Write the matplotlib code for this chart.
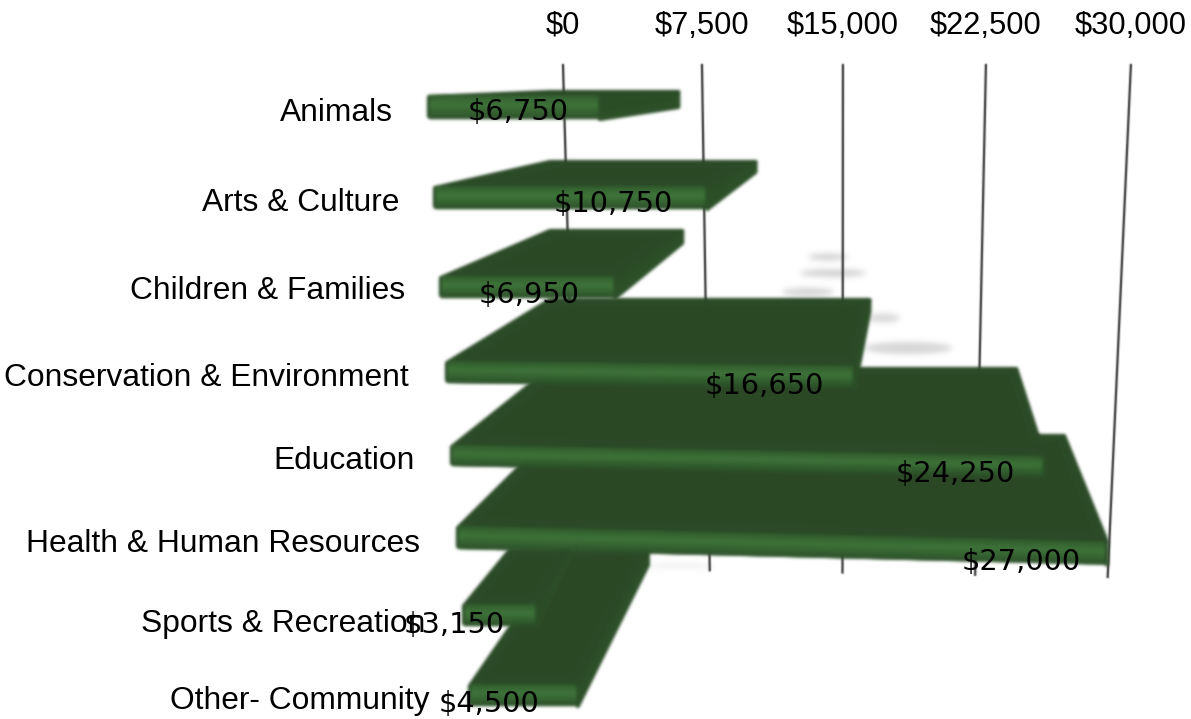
import numpy as np
import matplotlib
matplotlib.use('Agg')
import matplotlib.pyplot as plt
from matplotlib.patches import Ellipse
from matplotlib.collections import PolyCollection

categories = ['Animals', 'Arts & Culture', 'Children & Families', 'Conservation & Environment',
              'Education', 'Health & Human Resources', 'Sports & Recreation', 'Other- Community']
amounts = [6750, 10750, 6950, 16650, 24250, 27000, 3150, 4500]
tick_values = [0, 7500, 15000, 22500, 30000]

# perspective layout of each row, in pixels (pixels per $1000 for the scales)
front_left = [427, 433, 439, 445, 450, 456, 462, 468]
front_bottom = [119, 209, 298, 383, 466, 549, 626, 706]
front_scale = [25.6, 25.5, 25.3, 24.6, 24.5, 24.1, 23.8, 24.4]
front_tilt = [0, 0, 0, 0.012, 0.019, 0.024, 0, 0]
back_left = [550, 550, 550, 550, 550, 551, 510, 563]
back_y = [90, 160, 229, 298, 367, 434, 548, 549]
back_scale = [19.3, 19.3, 19.3, 19.3, 19.3, 19.07, 19.3, 19.3]
strip_h = [24, 23, 22, 22, 21, 23, 22, 22]
side_h = [17, 12, 14, 13, 13, 13, 10, 16]
label_right = [393, 399, 405, 409, 415, 420, 425, 429]
label_y = [113, 203, 291, 378, 461, 544, 624, 701]
value_dx = [82, 94, 86, 90, 89, 86, 83, 89]
value_y = [112, 204, 295, 386, 474, 562, 625, 704]

TOP = '#2b4a27'
SIDE = '#2c4f28'
DARK = np.array([0x2c, 0x50, 0x29]) / 255
LIGHT = np.array([0x40, 0x76, 0x3b]) / 255


def grid_x(v, y):
    # value lines lean inwards towards the bottom of the chart
    t = (y - 65) / 505
    u = v / 30000
    return 563 + 14 * t + v / 1000 * (18.93 - 1.23 * t) - 16 * u * (1 - u) * (1 - t)


def soft(sigma):
    # agg filter: gaussian blur, so the marks get the same fuzzy edge as the original
    r = int(3 * sigma) + 1
    w = np.exp(-0.5 * (np.arange(-r, r + 1) / sigma) ** 2)
    w = w / w.sum()

    def process(img, dpi):
        a = np.pad(img, ((r, r), (r, r), (0, 0)))
        a[..., :3] *= a[..., 3:]
        for axis in (0, 1):
            a = sum(wk * np.roll(a, k, axis=axis) for wk, k in zip(w, range(-r, r + 1)))
        a[..., :3] /= np.maximum(a[..., 3:], 1e-4)
        return np.clip(a, 0, 1), -r, -r
    return process


fig = plt.figure(figsize=(11.91, 7.19), dpi=100)
ax = fig.add_axes([0, 0, 1, 1])
ax.set_xlim(0, 1191)
ax.set_ylim(719, 0)
ax.axis('off')

# blurry shadows behind the bars
for cx, cy, w, h, al in [(828, 257, 40, 7, 0.32), (833, 273, 66, 8, 0.32), (808, 292, 52, 8, 0.32),
                         (883, 318, 34, 9, 0.28), (908, 348, 88, 12, 0.3), (680, 566, 70, 6, 0.1)]:
    e = Ellipse((cx, cy), w, h, fc='#777777', ec='none', alpha=al, zorder=1)
    e.set_agg_filter(soft(3))
    ax.add_patch(e)

for v in tick_values:
    y_end = 568 + 9 * v / 30000
    ln, = ax.plot([grid_x(v, 65), grid_x(v, y_end)], [65, y_end], color='#333333', lw=1.6, zorder=2)
    ln.set_agg_filter(soft(0.7))
    ax.text(grid_x(v, 65), 26, '${:,}'.format(v), ha='center', va='center', fontsize=22.2,
            family='Liberation Sans', color='black', zorder=20)

# bottom row first: upper bars sit in front of the lower ones
for i in range(len(amounts) - 1, -1, -1):
    k = amounts[i] / 1000
    fl = front_left[i]
    fr = fl + k * front_scale[i]
    bl = back_left[i]
    br = bl + k * back_scale[i]
    yb = front_bottom[i]
    yb_r = yb + (fr - fl) * front_tilt[i]
    h = strip_h[i]

    polys = [[(fr, yb_r - h), (br - 2, back_y[i] + 2), (br - 2, back_y[i] + side_h[i]), (fr, yb_r)],
             [(fl + 2, yb - h + 2), (fr, yb_r - h), (br - 2, back_y[i] + 2), (bl, back_y[i] + 2)],
             [(fl + 3, yb - h + 3), (fr - 3, yb_r - h + 3), (fr - 3, yb_r - 3), (fl + 3, yb - 3)]]
    faces = [SIDE, TOP, DARK]
    edges = [SIDE, TOP, DARK]
    widths = [3, 3, 4.5]
    n = 14
    for s in range(n):
        a, b = s / n, (s + 1) / n
        mix = 1 - abs((a + b) / 2 - 0.42) / 0.58
        col = DARK + (LIGHT - DARK) * mix
        polys.append([(fl + 3, yb - h + h * a), (fr - 2, yb_r - h + h * a),
                      (fr - 2, yb_r - h + h * b), (fl + 3, yb - h + h * b)])
        faces.append(col)
        edges.append(col)
        widths.append(0.3)
    bar = PolyCollection(polys, facecolors=faces, edgecolors=edges, linewidths=widths,
                         joinstyle='round', zorder=3 + (8 - i) * 0.1)
    bar.set_agg_filter(soft(1.0))
    ax.add_collection(bar)

    ax.text(label_right[i], label_y[i], categories[i], ha='right', va='center', fontsize=22.9,
            family='Liberation Sans', color='black', zorder=20)
    ax.text(fr - value_dx[i], value_y[i], '${:,}'.format(amounts[i]), ha='center', va='center',
            fontsize=20.8, family='DejaVu Sans', color='black', zorder=21)

fig.savefig('out.png', dpi=100)
